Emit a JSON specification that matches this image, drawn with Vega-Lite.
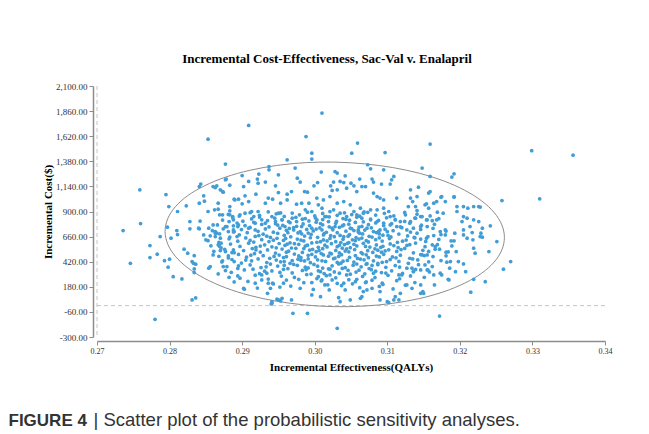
{
"$schema": "https://vega.github.io/schema/vega-lite/v6.json",
"width": 508, "height": 251,
"autosize": {"type": "none"},
"padding": {"left": 97, "top": 86, "right": 44, "bottom": 97},
"background": "white",
"config": {"view": {"stroke": null}, "font": "Liberation Serif"},
"title": {"text": "Incremental Cost-Effectiveness, Sac-Val v. Enalapril", "font": "Liberation Serif", "fontSize": 13, "fontWeight": "bold", "color": "#000000", "anchor": "middle", "dx": -24, "offset": 16},
"datasets": {
"psa": [
{"e":0.2736,"c":718},{"e":0.2746,"c":405},{"e":0.2760,"c":785},{"e":0.2759,"c":1107},{"e":0.2795,"c":1062},{"e":0.2799,"c":947},{"e":0.2811,"c":900},{"e":0.2823,"c":954},{"e":0.2853,"c":1592},{"e":0.2877,"c":1353},{"e":0.2780,"c":-131},{"e":0.2831,"c":54},{"e":0.2836,"c":73},{"e":0.2909,"c":1723},{"e":0.3010,"c":1841},{"e":0.2988,"c":1617},{"e":0.3059,"c":1554},{"e":0.2996,"c":1458},{"e":0.2996,"c":1401},{"e":0.2962,"c":1394},{"e":0.3051,"c":1458},{"e":0.3097,"c":1464},{"e":0.3159,"c":1545},{"e":0.3299,"c":1481},{"e":0.3356,"c":1439},{"e":0.3258,"c":1005},{"e":0.3310,"c":1021},{"e":0.3148,"c":1315},{"e":0.3192,"c":1260},{"e":0.3189,"c":1229},{"e":0.3159,"c":1235},{"e":0.3031,"c":-217},{"e":0.2970,"c":-73},{"e":0.2990,"c":-73},{"e":0.3172,"c":-100},{"e":0.3270,"c":421},{"e":0.3260,"c":348},{"e":0.3251,"c":612},{"e":0.3240,"c":517},{"e":0.3215,"c":128},{"e":0.3235,"c":229},
{"e":0.2841,"c":1139},{"e":0.2843,"c":1162},{"e":0.2847,"c":1050},{"e":0.2848,"c":999},{"e":0.2841,"c":980},{"e":0.2860,"c":1139},{"e":0.2865,"c":1146},{"e":0.2870,"c":1107},{"e":0.2873,"c":1091},{"e":0.2878,"c":1210},{"e":0.2883,"c":1152},{"e":0.2889,"c":1018},{"e":0.2895,"c":1018},{"e":0.2853,"c":900},{"e":0.2862,"c":916},{"e":0.2867,"c":980},{"e":0.2873,"c":868},{"e":0.2883,"c":906},{"e":0.2887,"c":852},{"e":0.2897,"c":868},
{"e":0.2797,"c":750},{"e":0.2810,"c":718},{"e":0.2811,"c":679},{"e":0.2802,"c":645},{"e":0.2787,"c":660},{"e":0.2773,"c":574},{"e":0.2783,"c":492},{"e":0.2773,"c":459},{"e":0.2793,"c":430},{"e":0.2800,"c":444},{"e":0.2798,"c":367},{"e":0.2805,"c":277},{"e":0.2817,"c":255},{"e":0.2820,"c":540},{"e":0.2825,"c":501},{"e":0.2834,"c":478},{"e":0.2831,"c":421},{"e":0.2836,"c":396},{"e":0.2834,"c":351},{"e":0.2834,"c":316},
{"e":0.2828,"c":804},{"e":0.2828,"c":734},{"e":0.2842,"c":808},{"e":0.2847,"c":676},{"e":0.2850,"c":629},{"e":0.2841,"c":734},{"e":0.2854,"c":741},{"e":0.2860,"c":772},{"e":0.2865,"c":693},{"e":0.2863,"c":660},{"e":0.2870,"c":645},{"e":0.2871,"c":597},{"e":0.2869,"c":565},{"e":0.2870,"c":526},{"e":0.2860,"c":485},{"e":0.2877,"c":517},{"e":0.2881,"c":475},{"e":0.2886,"c":507},{"e":0.2889,"c":421},{"e":0.2873,"c":428},{"e":0.2856,"c":373},{"e":0.2854,"c":358},{"e":0.2867,"c":303},{"e":0.2877,"c":335},{"e":0.2882,"c":271},{"e":0.2889,"c":226},{"e":0.2894,"c":284},{"e":0.2881,"c":708},{"e":0.2888,"c":763},{"e":0.2882,"c":804},{"e":0.2889,"c":708},{"e":0.2893,"c":660},{"e":0.2877,"c":756},{"e":0.2869,"c":868},{"e":0.2883,"c":947},{"e":0.2894,"c":756},{"e":0.2888,"c":533},
{"e":0.2833,"c":405},{"e":0.2863,"c":693},{"e":0.2867,"c":581},{"e":0.2874,"c":373},{"e":0.2903,"c":157},{"e":0.2918,"c":214},{"e":0.2927,"c":294},{"e":0.2934,"c":310},{"e":0.2936,"c":214},{"e":0.2942,"c":214},{"e":0.2939,"c":166},{"e":0.2935,"c":118},{"e":0.2948,"c":61},{"e":0.2953,"c":45},{"e":0.2941,"c":38},{"e":0.2968,"c":54},{"e":0.2940,"c":16},{"e":0.2957,"c":214},{"e":0.2980,"c":166},{"e":0.2996,"c":102},{"e":0.2996,"c":220},{"e":0.3005,"c":277},{"e":0.3010,"c":246},{"e":0.3020,"c":150},{"e":0.3014,"c":198},{"e":0.3024,"c":246},{"e":0.3021,"c":294},
{"e":0.2937,"c":1330},{"e":0.2937,"c":1299},{"e":0.2973,"c":1315},{"e":0.3009,"c":1277},{"e":0.2923,"c":1258},{"e":0.2950,"c":1251},{"e":0.2900,"c":1244},{"e":0.2976,"c":1219},{"e":0.2877,"c":1203},{"e":0.2921,"c":1210},{"e":0.2922,"c":1171},{"e":0.2909,"c":1187},{"e":0.2932,"c":1181},{"e":0.2946,"c":1146},{"e":0.2980,"c":1181},{"e":0.3004,"c":1177},{"e":0.2999,"c":1146},{"e":0.2863,"c":1129},{"e":0.2874,"c":1085},{"e":0.2902,"c":1139},{"e":0.2904,"c":1050},{"e":0.2919,"c":1066},{"e":0.2890,"c":1011},{"e":0.2900,"c":973},{"e":0.2909,"c":995},{"e":0.2932,"c":980},{"e":0.2936,"c":1028},{"e":0.2942,"c":1018},{"e":0.2950,"c":1081},{"e":0.2962,"c":1066},{"e":0.2968,"c":1091},{"e":0.2962,"c":1011},{"e":0.2953,"c":980},{"e":0.2975,"c":970},{"e":0.2982,"c":980},{"e":0.2986,"c":1091},{"e":0.2990,"c":1085},{"e":0.2992,"c":980},{"e":0.3003,"c":1028},{"e":0.3005,"c":964},{"e":0.3012,"c":1011},{"e":0.3021,"c":1043},{"e":0.3022,"c":1146},{"e":0.3024,"c":1101},{"e":0.3010,"c":932},{"e":0.2996,"c":900},{"e":0.2987,"c":916},{"e":0.2867,"c":922},{"e":0.2883,"c":868},{"e":0.2888,"c":820},{"e":0.2895,"c":772},{"e":0.2904,"c":884},{"e":0.2913,"c":900},{"e":0.2916,"c":852},{"e":0.2922,"c":900},{"e":0.2927,"c":820},{"e":0.2918,"c":788},{"e":0.2932,"c":788},{"e":0.2941,"c":852},{"e":0.2946,"c":804},{"e":0.2950,"c":884},{"e":0.2955,"c":820},{"e":0.2959,"c":756},{"e":0.2969,"c":836},{"e":0.2975,"c":804},{"e":0.2982,"c":756},{"e":0.2971,"c":724},{"e":0.3003,"c":820},{"e":0.3014,"c":852},{"e":0.3019,"c":804},{"e":0.3024,"c":740},{"e":0.3010,"c":724},{"e":0.2996,"c":740},{"e":0.2909,"c":740},{"e":0.2918,"c":724},{"e":0.2840,"c":740},{"e":0.2863,"c":708},{"e":0.2888,"c":724},
{"e":0.3073,"c":1347},{"e":0.3077,"c":1308},{"e":0.3095,"c":1299},{"e":0.3028,"c":1282},{"e":0.3031,"c":1267},{"e":0.3042,"c":1241},{"e":0.3062,"c":1210},{"e":0.3079,"c":1210},{"e":0.3081,"c":1181},{"e":0.3109,"c":1235},{"e":0.3106,"c":1203},{"e":0.3104,"c":1162},{"e":0.3092,"c":1162},{"e":0.3026,"c":1181},{"e":0.3035,"c":1187},{"e":0.3040,"c":1177},{"e":0.3050,"c":1171},{"e":0.3054,"c":1146},{"e":0.3065,"c":1139},{"e":0.3070,"c":1139},{"e":0.3031,"c":1107},{"e":0.3044,"c":1123},{"e":0.3058,"c":1091},{"e":0.3081,"c":1076},{"e":0.3086,"c":1043},{"e":0.3090,"c":1028},{"e":0.3095,"c":1011},{"e":0.3113,"c":1028},{"e":0.3132,"c":1107},{"e":0.3143,"c":1133},{"e":0.3157,"c":1076},{"e":0.3159,"c":1091},{"e":0.3141,"c":1043},{"e":0.3132,"c":1028},{"e":0.3135,"c":995},{"e":0.3129,"c":947},{"e":0.3139,"c":947},{"e":0.3141,"c":909},{"e":0.3152,"c":964},{"e":0.3164,"c":980},{"e":0.3168,"c":995},{"e":0.3175,"c":1043},{"e":0.3180,"c":995},{"e":0.3192,"c":1043},{"e":0.3196,"c":947},{"e":0.3196,"c":900},{"e":0.3205,"c":947},{"e":0.3211,"c":932},{"e":0.3219,"c":947},{"e":0.3226,"c":947},{"e":0.3205,"c":852},{"e":0.3210,"c":836},{"e":0.3203,"c":804},{"e":0.3219,"c":820},{"e":0.3226,"c":804},{"e":0.3214,"c":756},{"e":0.3205,"c":724},{"e":0.3231,"c":740},{"e":0.3180,"c":724},{"e":0.3173,"c":708},{"e":0.3168,"c":820},{"e":0.3159,"c":858},{"e":0.3155,"c":820},{"e":0.3146,"c":852},{"e":0.3139,"c":836},{"e":0.3132,"c":804},{"e":0.3125,"c":868},{"e":0.3118,"c":804},{"e":0.3111,"c":820},{"e":0.3104,"c":852},{"e":0.3102,"c":900},{"e":0.3095,"c":932},{"e":0.3086,"c":916},{"e":0.3077,"c":916},{"e":0.3067,"c":884},{"e":0.3063,"c":932},{"e":0.3054,"c":900},{"e":0.3049,"c":964},{"e":0.3040,"c":995},{"e":0.3031,"c":980},{"e":0.3026,"c":916},{"e":0.3035,"c":884},{"e":0.3044,"c":852},{"e":0.3058,"c":868},{"e":0.3065,"c":836},{"e":0.3077,"c":820},{"e":0.3086,"c":804},{"e":0.3095,"c":788},{"e":0.3104,"c":772},{"e":0.3113,"c":756},{"e":0.3127,"c":724},{"e":0.3136,"c":740},{"e":0.3146,"c":756},{"e":0.3155,"c":756},{"e":0.3028,"c":756},{"e":0.3040,"c":772},{"e":0.3049,"c":740},{"e":0.3060,"c":724},{"e":0.3072,"c":740},{"e":0.3081,"c":708},{"e":0.3090,"c":724},{"e":0.3100,"c":708},
{"e":0.3192,"c":1037},{"e":0.3174,"c":1037},{"e":0.3154,"c":973},{"e":0.3228,"c":942},{"e":0.3157,"c":932},{"e":0.3169,"c":894},{"e":0.3177,"c":884},{"e":0.3148,"c":852},{"e":0.3162,"c":812},{"e":0.3242,"c":763},{"e":0.3228,"c":660},{"e":0.3218,"c":629},{"e":0.3229,"c":693},{"e":0.3217,"c":699},{"e":0.3193,"c":693},{"e":0.3188,"c":619},{"e":0.3180,"c":676},{"e":0.3164,"c":670},{"e":0.3154,"c":645},{"e":0.3162,"c":581},{"e":0.3166,"c":565},{"e":0.3172,"c":540},{"e":0.3181,"c":511},{"e":0.3182,"c":415},{"e":0.3186,"c":358},{"e":0.3173,"c":310},{"e":0.3156,"c":341},{"e":0.3184,"c":252},{"e":0.3165,"c":198},{"e":0.3149,"c":134},
{"e":0.3219,"c":549},{"e":0.3221,"c":501},{"e":0.3231,"c":654},{"e":0.3205,"c":676},{"e":0.3210,"c":645},{"e":0.3195,"c":517},{"e":0.3187,"c":421},{"e":0.3198,"c":421},{"e":0.3205,"c":399},{"e":0.3194,"c":325},{"e":0.3175,"c":294},{"e":0.3208,"c":325},{"e":0.3185,"c":246},{"e":0.3219,"c":252},{"e":0.3164,"c":294},{"e":0.3155,"c":485},{"e":0.3148,"c":485},{"e":0.3146,"c":118},{"e":0.3150,"c":118},{"e":0.3134,"c":166},{"e":0.3146,"c":198},{"e":0.3155,"c":341},{"e":0.3134,"c":358},{"e":0.3127,"c":198},{"e":0.3118,"c":118},{"e":0.3116,"c":54},{"e":0.3111,"c":86},{"e":0.3109,"c":54},{"e":0.3102,"c":28},{"e":0.3090,"c":54},{"e":0.3090,"c":134},{"e":0.3093,"c":214},{"e":0.3079,"c":166},{"e":0.3067,"c":134},{"e":0.3065,"c":86},{"e":0.3049,"c":54},{"e":0.3035,"c":38},{"e":0.3033,"c":76},{"e":0.3042,"c":150},{"e":0.3040,"c":214},{"e":0.3056,"c":229},{"e":0.3070,"c":220},{"e":0.3081,"c":310},{"e":0.3116,"c":294},{"e":0.3120,"c":294},{"e":0.3136,"c":325},{"e":0.3146,"c":341},
{"e":0.2941,"c":23},{"e":0.3063,"c":70},{"e":0.3072,"c":150},{"e":0.3100,"c":38},{"e":0.2902,"c":166},{"e":0.2950,"c":54},{"e":0.2955,"c":70},{"e":0.3008,"c":86},
{"e":0.2921,"c":168},{"e":0.2967,"c":187},{"e":0.2998,"c":155},{"e":0.3037,"c":192},{"e":0.3062,"c":171},{"e":0.3089,"c":183},{"e":0.3108,"c":160},{"e":0.3125,"c":196},{"e":0.2952,"c":178},{"e":0.3018,"c":199},
{"e":0.2908,"c":231},{"e":0.2943,"c":207},{"e":0.2961,"c":244},{"e":0.2985,"c":219},{"e":0.3009,"c":236},{"e":0.3031,"c":212},{"e":0.3047,"c":248},{"e":0.3071,"c":226},{"e":0.3094,"c":203},{"e":0.3113,"c":239},{"e":0.3138,"c":221},{"e":0.3052,"c":209},{"e":0.2927,"c":246},{"e":0.3079,"c":243},
{"e":0.2897,"c":262},{"e":0.2918,"c":291},{"e":0.2936,"c":254},{"e":0.2954,"c":283},{"e":0.2972,"c":270},{"e":0.2989,"c":297},{"e":0.3003,"c":259},{"e":0.3016,"c":286},{"e":0.3029,"c":266},{"e":0.3044,"c":294},{"e":0.3058,"c":251},{"e":0.3066,"c":279},{"e":0.3083,"c":268},{"e":0.3101,"c":290},{"e":0.3117,"c":257},{"e":0.3132,"c":284},{"e":0.3151,"c":271},{"e":0.2978,"c":252},
{"e":0.2885,"c":318},{"e":0.2903,"c":341},{"e":0.2924,"c":305},{"e":0.2941,"c":332},{"e":0.2957,"c":347},{"e":0.2969,"c":313},{"e":0.2983,"c":336},{"e":0.2995,"c":302},{"e":0.3008,"c":325},{"e":0.3021,"c":349},{"e":0.3034,"c":310},{"e":0.3046,"c":338},{"e":0.3057,"c":321},{"e":0.3069,"c":304},{"e":0.3078,"c":344},{"e":0.3092,"c":316},{"e":0.3106,"c":333},{"e":0.3121,"c":308},{"e":0.3139,"c":346},{"e":0.3158,"c":322},{"e":0.2931,"c":329},{"e":0.3013,"c":307},
{"e":0.2879,"c":372},{"e":0.2894,"c":356},{"e":0.2911,"c":389},{"e":0.2926,"c":364},{"e":0.2939,"c":397},{"e":0.2949,"c":378},{"e":0.2963,"c":353},{"e":0.2976,"c":385},{"e":0.2987,"c":368},{"e":0.2999,"c":394},{"e":0.3011,"c":359},{"e":0.3024,"c":381},{"e":0.3033,"c":399},{"e":0.3042,"c":363},{"e":0.3053,"c":387},{"e":0.3064,"c":371},{"e":0.3075,"c":355},{"e":0.3087,"c":392},{"e":0.3098,"c":366},{"e":0.3111,"c":383},{"e":0.3127,"c":358},{"e":0.3143,"c":391},{"e":0.3162,"c":374},{"e":0.3019,"c":352},{"e":0.3071,"c":396},{"e":0.2958,"c":386},
{"e":0.2872,"c":418},{"e":0.2886,"c":441},{"e":0.2899,"c":407},{"e":0.2913,"c":429},{"e":0.2922,"c":447},{"e":0.2934,"c":412},{"e":0.2947,"c":436},{"e":0.2958,"c":421},{"e":0.2966,"c":404},{"e":0.2977,"c":444},{"e":0.2986,"c":427},{"e":0.2994,"c":410},{"e":0.3004,"c":438},{"e":0.3015,"c":423},{"e":0.3026,"c":449},{"e":0.3036,"c":406},{"e":0.3045,"c":432},{"e":0.3054,"c":417},{"e":0.3063,"c":445},{"e":0.3072,"c":401},{"e":0.3081,"c":428},{"e":0.3093,"c":414},{"e":0.3104,"c":440},{"e":0.3116,"c":422},{"e":0.3129,"c":405},{"e":0.3142,"c":437},{"e":0.3157,"c":419},{"e":0.3174,"c":431},{"e":0.3039,"c":425},{"e":0.2981,"c":433},
{"e":0.2868,"c":471},{"e":0.2881,"c":456},{"e":0.2895,"c":489},{"e":0.2906,"c":463},{"e":0.2917,"c":497},{"e":0.2929,"c":477},{"e":0.2938,"c":452},{"e":0.2951,"c":484},{"e":0.2961,"c":468},{"e":0.2972,"c":493},{"e":0.2981,"c":459},{"e":0.2991,"c":481},{"e":0.3001,"c":466},{"e":0.3009,"c":498},{"e":0.3019,"c":473},{"e":0.3028,"c":455},{"e":0.3037,"c":487},{"e":0.3048,"c":462},{"e":0.3056,"c":479},{"e":0.3066,"c":495},{"e":0.3074,"c":458},{"e":0.3085,"c":474},{"e":0.3095,"c":491},{"e":0.3107,"c":465},{"e":0.3118,"c":482},{"e":0.3131,"c":453},{"e":0.3146,"c":488},{"e":0.3163,"c":469},{"e":0.3181,"c":476},{"e":0.3012,"c":485},{"e":0.3059,"c":451},{"e":0.2944,"c":470},
{"e":0.2861,"c":519},{"e":0.2876,"c":538},{"e":0.2889,"c":506},{"e":0.2902,"c":527},{"e":0.2914,"c":546},{"e":0.2925,"c":512},{"e":0.2935,"c":533},{"e":0.2946,"c":503},{"e":0.2955,"c":541},{"e":0.2964,"c":521},{"e":0.2974,"c":548},{"e":0.2983,"c":509},{"e":0.2993,"c":531},{"e":0.3002,"c":516},{"e":0.3011,"c":544},{"e":0.3021,"c":502},{"e":0.3029,"c":528},{"e":0.3038,"c":549},{"e":0.3047,"c":514},{"e":0.3055,"c":536},{"e":0.3064,"c":507},{"e":0.3073,"c":525},{"e":0.3083,"c":543},{"e":0.3092,"c":511},{"e":0.3102,"c":534},{"e":0.3113,"c":518},{"e":0.3124,"c":547},{"e":0.3136,"c":505},{"e":0.3149,"c":529},{"e":0.3166,"c":540},{"e":0.3184,"c":515},{"e":0.2997,"c":539},{"e":0.3042,"c":522},{"e":0.3087,"c":530},
{"e":0.2857,"c":572},{"e":0.2871,"c":553},{"e":0.2884,"c":589},{"e":0.2897,"c":566},{"e":0.2909,"c":597},{"e":0.2919,"c":558},{"e":0.2931,"c":581},{"e":0.2941,"c":562},{"e":0.2951,"c":594},{"e":0.2959,"c":575},{"e":0.2968,"c":551},{"e":0.2978,"c":586},{"e":0.2987,"c":569},{"e":0.2996,"c":599},{"e":0.3005,"c":557},{"e":0.3014,"c":578},{"e":0.3023,"c":592},{"e":0.3031,"c":563},{"e":0.3041,"c":584},{"e":0.3049,"c":554},{"e":0.3058,"c":571},{"e":0.3067,"c":596},{"e":0.3076,"c":560},{"e":0.3085,"c":580},{"e":0.3094,"c":567},{"e":0.3104,"c":590},{"e":0.3115,"c":555},{"e":0.3127,"c":576},{"e":0.3139,"c":598},{"e":0.3152,"c":564},{"e":0.3169,"c":583},{"e":0.3189,"c":571},{"e":0.3034,"c":577},{"e":0.2962,"c":588},{"e":0.3109,"c":574},
{"e":0.2853,"c":621},{"e":0.2868,"c":604},{"e":0.2882,"c":639},{"e":0.2894,"c":616},{"e":0.2905,"c":647},{"e":0.2916,"c":608},{"e":0.2927,"c":631},{"e":0.2937,"c":613},{"e":0.2948,"c":644},{"e":0.2957,"c":624},{"e":0.2966,"c":601},{"e":0.2976,"c":636},{"e":0.2985,"c":618},{"e":0.2994,"c":649},{"e":0.3003,"c":606},{"e":0.3012,"c":628},{"e":0.3021,"c":642},{"e":0.3029,"c":611},{"e":0.3039,"c":634},{"e":0.3047,"c":603},{"e":0.3056,"c":622},{"e":0.3065,"c":646},{"e":0.3074,"c":609},{"e":0.3084,"c":630},{"e":0.3093,"c":617},{"e":0.3103,"c":641},{"e":0.3114,"c":605},{"e":0.3126,"c":627},{"e":0.3138,"c":648},{"e":0.3153,"c":614},{"e":0.3171,"c":633},{"e":0.3192,"c":620},{"e":0.3017,"c":619},{"e":0.3061,"c":637},{"e":0.2943,"c":626},
{"e":0.2856,"c":668},{"e":0.2869,"c":687},{"e":0.2883,"c":655},{"e":0.2896,"c":676},{"e":0.2907,"c":698},{"e":0.2918,"c":661},{"e":0.2929,"c":683},{"e":0.2939,"c":652},{"e":0.2949,"c":691},{"e":0.2958,"c":672},{"e":0.2967,"c":658},{"e":0.2977,"c":695},{"e":0.2986,"c":665},{"e":0.2995,"c":681},{"e":0.3004,"c":653},{"e":0.3013,"c":689},{"e":0.3022,"c":670},{"e":0.3031,"c":697},{"e":0.3040,"c":659},{"e":0.3048,"c":678},{"e":0.3057,"c":651},{"e":0.3066,"c":686},{"e":0.3075,"c":663},{"e":0.3085,"c":699},{"e":0.3094,"c":674},{"e":0.3105,"c":657},{"e":0.3116,"c":684},{"e":0.3128,"c":666},{"e":0.3141,"c":693},{"e":0.3156,"c":660},{"e":0.3174,"c":679},{"e":0.3035,"c":671},{"e":0.2991,"c":694},{"e":0.3079,"c":656},{"e":0.2923,"c":670},
{"e":0.2859,"c":716},{"e":0.2874,"c":735},{"e":0.2888,"c":704},{"e":0.2899,"c":727},{"e":0.2911,"c":748},{"e":0.2922,"c":711},{"e":0.2932,"c":733},{"e":0.2943,"c":702},{"e":0.2952,"c":741},{"e":0.2961,"c":720},{"e":0.2971,"c":746},{"e":0.2980,"c":707},{"e":0.2989,"c":729},{"e":0.2998,"c":714},{"e":0.3007,"c":743},{"e":0.3016,"c":701},{"e":0.3025,"c":725},{"e":0.3034,"c":749},{"e":0.3043,"c":712},{"e":0.3051,"c":736},{"e":0.3060,"c":705},{"e":0.3069,"c":723},{"e":0.3078,"c":744},{"e":0.3088,"c":709},{"e":0.3097,"c":731},{"e":0.3108,"c":717},{"e":0.3120,"c":745},{"e":0.3132,"c":703},{"e":0.3146,"c":728},{"e":0.3163,"c":739},{"e":0.3181,"c":713},{"e":0.3002,"c":732},{"e":0.3054,"c":718},{"e":0.2965,"c":738},
{"e":0.2866,"c":771},{"e":0.2879,"c":755},{"e":0.2893,"c":789},{"e":0.2904,"c":764},{"e":0.2916,"c":797},{"e":0.2927,"c":776},{"e":0.2937,"c":752},{"e":0.2946,"c":784},{"e":0.2956,"c":767},{"e":0.2966,"c":793},{"e":0.2975,"c":758},{"e":0.2984,"c":781},{"e":0.2993,"c":765},{"e":0.3002,"c":798},{"e":0.3011,"c":773},{"e":0.3020,"c":754},{"e":0.3029,"c":787},{"e":0.3038,"c":762},{"e":0.3047,"c":779},{"e":0.3056,"c":795},{"e":0.3065,"c":757},{"e":0.3074,"c":774},{"e":0.3084,"c":791},{"e":0.3095,"c":766},{"e":0.3106,"c":783},{"e":0.3118,"c":753},{"e":0.3131,"c":788},{"e":0.3147,"c":769},{"e":0.3165,"c":777},{"e":0.3008,"c":785},{"e":0.3061,"c":751},{"e":0.2949,"c":770},
{"e":0.2873,"c":818},{"e":0.2887,"c":841},{"e":0.2901,"c":807},{"e":0.2913,"c":829},{"e":0.2924,"c":847},{"e":0.2935,"c":812},{"e":0.2945,"c":836},{"e":0.2955,"c":821},{"e":0.2964,"c":804},{"e":0.2974,"c":844},{"e":0.2983,"c":827},{"e":0.2992,"c":810},{"e":0.3001,"c":838},{"e":0.3011,"c":823},{"e":0.3020,"c":849},{"e":0.3030,"c":806},{"e":0.3039,"c":832},{"e":0.3048,"c":817},{"e":0.3058,"c":845},{"e":0.3067,"c":801},{"e":0.3077,"c":828},{"e":0.3088,"c":814},{"e":0.3099,"c":840},{"e":0.3111,"c":822},{"e":0.3124,"c":805},{"e":0.3138,"c":837},{"e":0.3154,"c":819},{"e":0.3171,"c":831},{"e":0.3043,"c":825},{"e":0.2987,"c":833},
{"e":0.2881,"c":872},{"e":0.2896,"c":856},{"e":0.2911,"c":889},{"e":0.2924,"c":864},{"e":0.2936,"c":897},{"e":0.2947,"c":878},{"e":0.2958,"c":853},{"e":0.2969,"c":885},{"e":0.2979,"c":868},{"e":0.2990,"c":894},{"e":0.3000,"c":859},{"e":0.3011,"c":881},{"e":0.3021,"c":899},{"e":0.3031,"c":863},{"e":0.3041,"c":887},{"e":0.3051,"c":871},{"e":0.3062,"c":855},{"e":0.3073,"c":892},{"e":0.3084,"c":866},{"e":0.3096,"c":883},{"e":0.3109,"c":858},{"e":0.3124,"c":891},{"e":0.3141,"c":874},{"e":0.3016,"c":852},{"e":0.3068,"c":896},{"e":0.2953,"c":886},
{"e":0.2952,"c":317},{"e":0.2988,"c":344},{"e":0.3027,"c":322},{"e":0.3061,"c":339},{"e":0.3098,"c":311},{"e":0.3049,"c":301},{"e":0.2915,"c":348},{"e":0.3136,"c":327},{"e":0.3005,"c":333},{"e":0.3084,"c":329},
{"e":0.2933,"c":371},{"e":0.2971,"c":394},{"e":0.3004,"c":377},{"e":0.3038,"c":356},{"e":0.3079,"c":384},{"e":0.3117,"c":369},{"e":0.3152,"c":389},{"e":0.2895,"c":381},{"e":0.3058,"c":398},{"e":0.2991,"c":360},
{"e":0.2905,"c":436},{"e":0.2953,"c":419},{"e":0.2991,"c":447},{"e":0.3031,"c":413},{"e":0.3068,"c":438},{"e":0.3099,"c":421},{"e":0.3135,"c":446},{"e":0.3010,"c":428},{"e":0.3087,"c":403},{"e":0.2969,"c":431},
{"e":0.2912,"c":482},{"e":0.2957,"c":460},{"e":0.2996,"c":491},{"e":0.3033,"c":471},{"e":0.3071,"c":486},{"e":0.3112,"c":457},{"e":0.3151,"c":479},{"e":0.3023,"c":495},{"e":0.3089,"c":466},{"e":0.2978,"c":475},
{"e":0.2919,"c":533},{"e":0.2961,"c":511},{"e":0.3006,"c":527},{"e":0.3044,"c":542},{"e":0.3080,"c":509},{"e":0.3119,"c":536},{"e":0.3157,"c":518},{"e":0.3034,"c":504},{"e":0.2985,"c":546},{"e":0.3097,"c":523},
{"e":0.2925,"c":569},{"e":0.2972,"c":592},{"e":0.3017,"c":561},{"e":0.3054,"c":586},{"e":0.3091,"c":557},{"e":0.3131,"c":583},{"e":0.3045,"c":596},{"e":0.2990,"c":578},{"e":0.3070,"c":566},{"e":0.2947,"c":553},
{"e":0.2911,"c":623},{"e":0.2960,"c":642},{"e":0.3008,"c":611},{"e":0.3052,"c":629},{"e":0.3089,"c":648},{"e":0.3121,"c":616},{"e":0.2981,"c":627},{"e":0.3036,"c":603},{"e":0.3071,"c":621},{"e":0.3146,"c":637},
{"e":0.2934,"c":664},{"e":0.2982,"c":687},{"e":0.3027,"c":659},{"e":0.3062,"c":693},{"e":0.3101,"c":671},{"e":0.3137,"c":652},{"e":0.3012,"c":676},{"e":0.3046,"c":664},{"e":0.2963,"c":698},{"e":0.3089,"c":685}
],
"ellipse": [
{"o":0,"e":0.32614,"c":652},{"o":1,"e":0.32578,"c":772},{"o":2,"e":0.32473,"c":890},{"o":3,"e":0.32301,"c":1001},{"o":4,"e":0.32067,"c":1103},{"o":5,"e":0.31779,"c":1192},{"o":6,"e":0.31445,"c":1265},{"o":7,"e":0.31076,"c":1320},{"o":8,"e":0.30682,"c":1356},{"o":9,"e":0.30276,"c":1372},{"o":10,"e":0.29870,"c":1367},{"o":11,"e":0.29476,"c":1340},{"o":12,"e":0.29107,"c":1294},{"o":13,"e":0.28773,"c":1229},{"o":14,"e":0.28485,"c":1147},{"o":15,"e":0.28251,"c":1052},{"o":16,"e":0.28079,"c":945},{"o":17,"e":0.27974,"c":830},{"o":18,"e":0.27938,"c":710},{"o":19,"e":0.27974,"c":590},{"o":20,"e":0.28079,"c":472},{"o":21,"e":0.28251,"c":361},{"o":22,"e":0.28485,"c":259},{"o":23,"e":0.28773,"c":170},{"o":24,"e":0.29107,"c":97},{"o":25,"e":0.29476,"c":42},{"o":26,"e":0.29870,"c":6},{"o":27,"e":0.30276,"c":-10},{"o":28,"e":0.30682,"c":-4},{"o":29,"e":0.31076,"c":22},{"o":30,"e":0.31445,"c":68},{"o":31,"e":0.31779,"c":133},{"o":32,"e":0.32067,"c":215},{"o":33,"e":0.32301,"c":310},{"o":34,"e":0.32473,"c":417},{"o":35,"e":0.32578,"c":532}
],
"zeroline": [{"c":0}],
"baseline": [{"e":0.27}]
},
"layer": [
{
"data": {"name": "zeroline"},
"mark": {"type": "rule", "color": "#c4c4c4", "strokeWidth": 1, "strokeDash": [4, 3]},
"encoding": {"y": {"field": "c", "type": "quantitative", "axis": null, "scale": {"domain": [-300, 2100], "nice": false, "zero": false}}}
},
{
"data": {"name": "baseline"},
"mark": {"type": "rule", "color": "#c4c4c4", "strokeWidth": 1, "strokeDash": [4, 3]},
"encoding": {"x": {"field": "e", "type": "quantitative", "scale": {"domain": [0.27, 0.34], "nice": false, "zero": false},
"axis": {"title": "FIGURE 4", "orient": "bottom", "domain": false, "ticks": false, "labels": false, "grid": false, "titleFont": "Liberation Sans", "titleFontWeight": "bold", "titleFontSize": 17, "titleColor": "#333333", "titleAnchor": "start", "titleAlign": "left", "titleBaseline": "alphabetic", "titleX": -89, "titleY": 88}}}
},
{
"data": {"name": "ellipse"},
"mark": {"type": "line", "color": "#8c8c8c", "strokeWidth": 1, "interpolate": "cardinal-closed"},
"encoding": {
"x": {"field": "e", "type": "quantitative",
"axis": {"title": "|  Scatter plot of the probabilistic sensitivity analyses.", "orient": "bottom", "domain": false, "ticks": false, "labels": false, "grid": false, "titleFont": "Liberation Sans", "titleFontWeight": "normal", "titleFontSize": 18.5, "titleColor": "#333333", "titleAnchor": "start", "titleAlign": "left", "titleBaseline": "alphabetic", "titleX": -4, "titleY": 88}},
"y": {"field": "c", "type": "quantitative", "axis": null},
"order": {"field": "o", "type": "quantitative"}
}
},
{
"data": {"name": "psa"},
"mark": {"type": "circle", "size": 14, "color": "#429dd6", "opacity": 1},
"encoding": {
"x": {"field": "e", "type": "quantitative",
"axis": {"title": "Incremental Effectiveness(QALYs)", "orient": "bottom", "values": [0.27, 0.28, 0.29, 0.30, 0.31, 0.32, 0.33, 0.34], "format": ".2f", "offset": 4, "grid": false, "domainColor": "#8c8c8c", "domainWidth": 1.5, "tickColor": "#8c8c8c", "tickSize": 4, "labelFont": "Liberation Serif", "labelFontSize": 8, "labelColor": "#333333", "labelPadding": 2, "labelFlush": false, "titleFont": "Liberation Serif", "titleFontSize": 11, "titleFontWeight": "bold", "titleColor": "#000000", "titlePadding": 6}},
"y": {"field": "c", "type": "quantitative",
"axis": {"title": "Incremental Cost($)", "orient": "left", "values": [-300, -60, 180, 420, 660, 900, 1140, 1380, 1620, 1860, 2100], "labelExpr": "replace(format(datum.value, ',.2f'), '\u2212', '-')", "offset": 4, "grid": false, "domainColor": "#8c8c8c", "domainWidth": 1.5, "tickColor": "#8c8c8c", "tickSize": 4, "labelFont": "Liberation Serif", "labelFontSize": 9, "labelColor": "#333333", "labelPadding": 2, "labelFlush": false, "titleFont": "Liberation Serif", "titleFontSize": 11, "titleFontWeight": "bold", "titleColor": "#000000", "titlePadding": 2}}
}
}
],
"resolve": {"axis": {"x": "independent", "y": "independent"}}
}
